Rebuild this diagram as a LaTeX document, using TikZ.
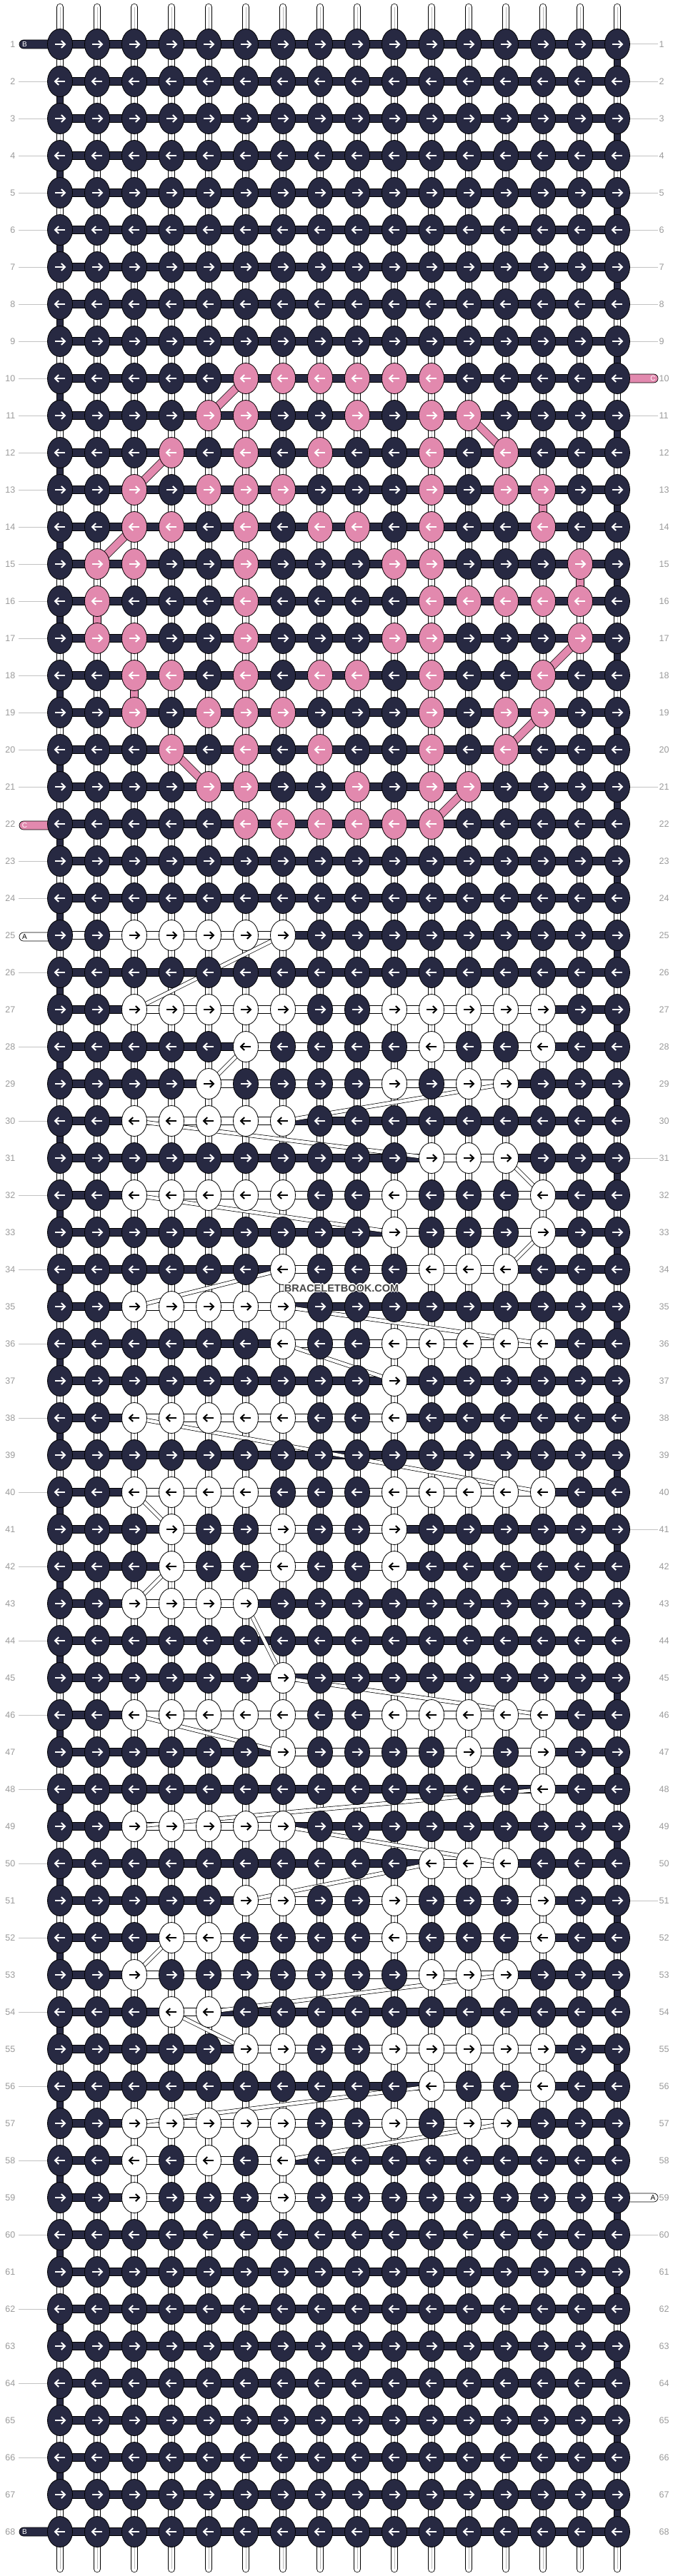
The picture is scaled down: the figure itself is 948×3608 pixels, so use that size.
\documentclass[tikz,border=0pt]{standalone}
\usepackage{fontspec}
\setmainfont{Liberation Sans}
\usetikzlibrary{shapes.geometric}
\definecolor{navyc}{RGB}{39,41,66}
\definecolor{pinkc}{RGB}{226,137,174}
\definecolor{lblgray}{RGB}{155,155,155}
\definecolor{linegray}{RGB}{195,195,195}
\definecolor{wmgray}{RGB}{70,70,70}
\pgfdeclarelayer{bg}
\pgfdeclarelayer{mid}
\pgfsetlayers{bg,mid,main}
\newcommand\setrow[4]{\foreach \kk in {#4}{\expandafter\gdef\csname kc-#1-\kk\endcsname{#2}\expandafter\gdef\csname ka-#1-\kk\endcsname{#3}}}
\begin{document}
\begin{tikzpicture}[x=1pt,y=-1pt,
  knot/.style={ellipse, draw=black, line width=0.8pt, minimum width=35pt, minimum height=43pt, inner sep=0pt},
  arrowline/.style={line width=2pt, line cap=butt, line join=miter},
  strand/.style={draw=black, line width=0.75pt, double=white, double distance=8.8pt, line cap=round},
  navyvert/.style={draw=black, line width=0.75pt, double=navyc, double distance=8.8pt},
  navybar/.style={draw=black, line width=0.7pt, double=navyc, double distance=10.6pt},
  whitebar/.style={draw=black, line width=0.7pt, double=white, double distance=10.6pt},
  atube/.style={draw=black, line width=0.7pt, double=white, double distance=4.5pt},
  ptube/.style={draw=black, line width=0.7pt, double=pinkc, double distance=10pt},
  lbl/.style={inner sep=0pt, text=lblgray, font=\fontsize{12.5}{12.5}\selectfont},
  lblline/.style={draw=linegray, line width=1pt},
  tagtxt/.style={inner sep=0pt, font=\fontsize{10}{10}\selectfont},
  wm/.style={inner sep=0pt, font=\bfseries\fontsize{14.5}{14.5}\selectfont}]
\useasboundingbox (0,0) rectangle (948,3608);
% ---- pattern data ----
\setrow{10}{pinkc}{white}{6,7,8,9,10,11}
\setrow{11}{pinkc}{white}{5,6,9,11,12}
\setrow{12}{pinkc}{white}{4,6,8,11,13}
\setrow{13}{pinkc}{white}{3,5,6,7,11,13,14}
\setrow{14}{pinkc}{white}{3,4,6,8,9,11,14}
\setrow{15}{pinkc}{white}{2,3,6,10,11,15}
\setrow{16}{pinkc}{white}{2,6,11,12,13,14,15}
\setrow{17}{pinkc}{white}{2,3,6,10,11,15}
\setrow{18}{pinkc}{white}{3,4,6,8,9,11,14}
\setrow{19}{pinkc}{white}{3,5,6,7,11,13,14}
\setrow{20}{pinkc}{white}{4,6,8,11,13}
\setrow{21}{pinkc}{white}{5,6,9,11,12}
\setrow{22}{pinkc}{white}{6,7,8,9,10,11}
\setrow{25}{white}{black}{3,4,5,6,7}
\setrow{27}{white}{black}{3,4,5,6,7,10,11,12,13,14}
\setrow{28}{white}{black}{6,11,14}
\setrow{29}{white}{black}{5,10,12,13}
\setrow{30}{white}{black}{3,4,5,6,7}
\setrow{31}{white}{black}{11,12,13}
\setrow{32}{white}{black}{3,4,5,6,7,10,14}
\setrow{33}{white}{black}{10,14}
\setrow{34}{white}{black}{7,11,12,13}
\setrow{35}{white}{black}{3,4,5,6,7}
\setrow{36}{white}{black}{7,10,11,12,13,14}
\setrow{37}{white}{black}{10}
\setrow{38}{white}{black}{3,4,5,6,7,10}
\setrow{40}{white}{black}{3,4,5,6,10,11,12,13,14}
\setrow{41}{white}{black}{4,7,10}
\setrow{42}{white}{black}{4,7,10}
\setrow{43}{white}{black}{3,4,5,6}
\setrow{45}{white}{black}{7}
\setrow{46}{white}{black}{3,4,5,6,7,10,11,12,13,14}
\setrow{47}{white}{black}{7,12,14}
\setrow{48}{white}{black}{14}
\setrow{49}{white}{black}{3,4,5,6,7}
\setrow{50}{white}{black}{11,12,13}
\setrow{51}{white}{black}{6,7,10,14}
\setrow{52}{white}{black}{4,5,10,14}
\setrow{53}{white}{black}{3,11,12,13}
\setrow{54}{white}{black}{4,5}
\setrow{55}{white}{black}{6,7,10,11,12,13,14}
\setrow{56}{white}{black}{11,14}
\setrow{57}{white}{black}{3,4,5,6,7,10,12,13}
\setrow{58}{white}{black}{3,5,7}
\setrow{59}{white}{black}{3,7}
% ---- knots ----
\foreach \krow in {1,...,68}{
  \foreach \kcol in {1,...,16}{
    \pgfmathsetmacro\xx{84+(\kcol-1)*52}
    \pgfmathsetmacro\yy{62+(\krow-1)*52}
    \ifcsname kc-\krow-\kcol\endcsname
      \edef\kfill{\csname kc-\krow-\kcol\endcsname}%
      \edef\kac{\csname ka-\krow-\kcol\endcsname}%
    \else
      \def\kfill{navyc}\def\kac{white}%
    \fi
    \ifodd\krow\relax \def\dir{1}\else \def\dir{-1}\fi
    \node[knot, fill=\kfill] (k-\krow-\kcol) at (\xx,\yy) {};
    \draw[arrowline, draw=\kac] (\xx-7*\dir,\yy) -- (\xx+6*\dir,\yy);
    \draw[arrowline, draw=\kac] (\xx+1.8*\dir,\yy-5) -- (\xx+7*\dir,\yy) -- (\xx+1.8*\dir,\yy+5);
  }
}
% ---- background strands ----
\begin{pgfonlayer}{bg}
  \fill[white] (0,0) rectangle (948,3608);
  \foreach \kcol in {1,...,16}{
    \pgfmathsetmacro\xx{84+(\kcol-1)*52}
    \coordinate (st-\kcol) at (\xx,10);
    \coordinate (sb-\kcol) at (\xx,3598);
    \draw[strand] (st-\kcol) -- (sb-\kcol);
    \draw[draw=gray!55, line width=0.6pt] (st-\kcol) -- (sb-\kcol);
  }
\end{pgfonlayer}
% ---- bars and tubes ----
\begin{pgfonlayer}{mid}
  \foreach \krow in {1,...,67}{
    \pgfmathtruncatemacro\nr{\krow+1}
    \ifodd\krow\relax \def\ec{16}\else \def\ec{1}\fi
    \draw[navyvert] (k-\krow-\ec.center) -- (k-\nr-\ec.center);
  }
  \foreach \krow in {1,...,68}{
    \draw[navybar] (k-\krow-1.center) -- (k-\krow-16.center);
  }
  \foreach \krow/\ca/\cb in {25/1/7, 27/3/14, 28/6/14, 29/5/13, 30/3/7, 31/11/13, 32/3/14, 33/10/14, 34/7/13, 35/3/7, 36/7/14, 38/3/10, 40/3/14, 41/4/10, 42/4/10, 43/3/6, 46/3/14, 47/7/14, 49/3/7, 50/11/13, 51/6/14, 52/4/14, 53/3/13, 54/4/5, 55/6/14, 56/11/14, 57/3/13, 58/3/7, 59/3/16}{
    \draw[whitebar] (k-\krow-\ca.center) -- (k-\krow-\cb.center);
  }
  \foreach \ra/\ca/\rb/\cb in {10/6/11/5, 11/12/12/13, 12/4/13/3, 13/14/14/14, 14/3/15/2, 15/15/16/15, 16/2/17/2, 17/15/18/14, 18/3/19/3, 19/14/20/13, 20/4/21/5, 21/12/22/11}{
    \draw[ptube] (k-\ra-\ca.center) -- (k-\rb-\cb.center);
  }
  \foreach \ra/\ca/\rb/\cb in {25/7/27/3, 28/6/29/5, 29/13/30/7, 30/3/31/11, 31/13/32/14, 32/3/33/10, 33/14/34/13, 34/7/35/3, 35/7/36/14, 36/7/37/10, 38/3/40/14, 40/3/41/4, 42/4/43/3, 43/6/45/7, 45/7/46/14, 46/3/47/7, 48/14/49/3, 49/7/50/13, 50/11/51/6, 52/4/53/3, 53/13/54/5, 54/4/55/6, 56/11/57/3, 57/13/58/7}{
    \draw[atube] (k-\ra-\ca.center) -- (k-\rb-\cb.center);
  }
  % tags
  \draw[fill=navyc, line width=0.7pt, rounded corners=6pt] (27,56) rectangle (82,68);
  \draw[fill=navyc, line width=0.7pt, rounded corners=6pt] (27,3540) rectangle (82,3552);
  \draw[fill=pinkc, line width=0.7pt, rounded corners=6pt] (27,1150) rectangle (82,1162);
  \draw[fill=white, line width=0.7pt, rounded corners=6pt] (27,1306) rectangle (82,1318);
  \draw[fill=pinkc, line width=0.7pt, rounded corners=6pt] (866,524) rectangle (921,536);
  \draw[fill=white, line width=0.7pt, rounded corners=6pt] (866,3072) rectangle (921,3084);
\end{pgfonlayer}
% ---- tag letters ----
\node[tagtxt, text=white] (tag-b1) at (34.5,62) {B};
\node[tagtxt, text=white] (tag-b68) at (34.5,3546) {B};
\node[tagtxt, text=white] (tag-c22) at (34.5,1156) {C};
\node[tagtxt, text=black] (tag-a25) at (34.5,1312) {A};
\node[tagtxt, text=white] (tag-c10) at (914,530) {C};
\node[tagtxt, text=black] (tag-a59) at (914,3078) {A};
% ---- row labels ----
\foreach \krow in {1,...,68}{
  \pgfmathsetmacro\yy{62+(\krow-1)*52}
  \node[lbl, anchor=east] (ll-\krow) at (21.5,\yy) {\krow};
  \node[lbl, anchor=west] (rl-\krow) at (922.5,\yy) {\krow};
}
\foreach \krow in {2,...,21,23,24,26,...,67}{
  \draw[lblline] ([xshift=4.5pt]ll-\krow.east) -- (k-\krow-1.west);
}
\foreach \krow in {1,...,9,11,...,58,60,...,68}{
  \draw[lblline] (k-\krow-16.east) -- ([xshift=-1.5pt]rl-\krow.west);
}
% ---- watermark ----
\foreach \dx/\dy [count=\i] in {-1.2/0,1.2/0,0/-1.2,0/1.2,-0.9/-0.9,0.9/0.9,-0.9/0.9,0.9/-0.9}{
  \node[wm, text=white] (wmh-\i) at (478+\dx,1804+\dy) {BRACELETBOOK.COM};
}
\node[wm, text=wmgray] (wm) at (478,1804) {BRACELETBOOK.COM};
\end{tikzpicture}
\end{document}
